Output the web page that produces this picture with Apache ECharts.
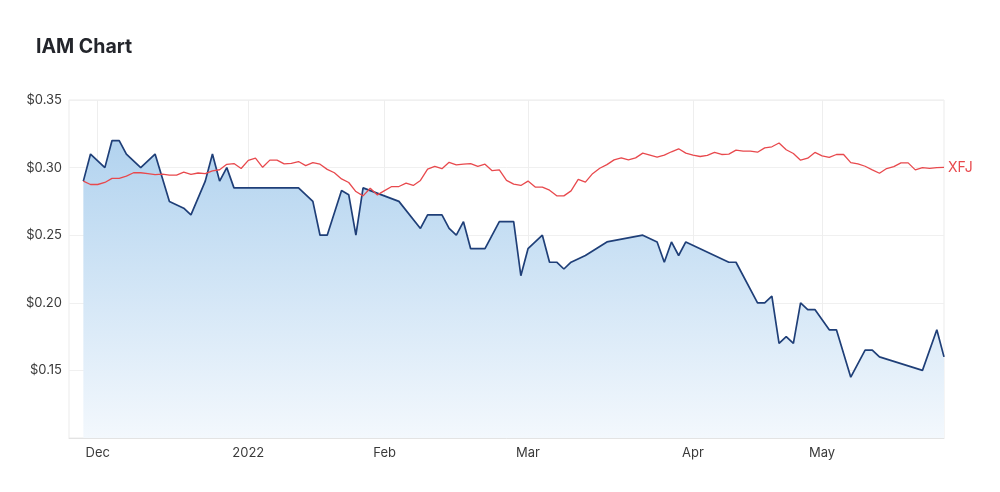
<!DOCTYPE html>
<html>
<head>
<meta charset="utf-8">
<script src="https://cdn.jsdelivr.net/npm/echarts@6/dist/echarts.min.js"></script>
<style>
  html, body { margin: 0; padding: 0; background: #ffffff; }
  #chart { width: 1000px; height: 492px; }
</style>
</head>
<body>
<div id="chart"></div>
<script>
// Trading-day categories (ASX), first two are empty padding days
const firstDay = '2021-11-25';
const lastDay = '2022-05-25';
const holidays = ['2021-12-27', '2021-12-28', '2022-01-03', '2022-01-26', '2022-04-15', '2022-04-18', '2022-04-25'];

// Month tick labels
const tickDates = ['2021-12-01', '2022-01-04', '2022-02-01', '2022-03-01', '2022-04-01', '2022-05-02'];
const tickLabels = ['Dec', '2022', 'Feb', 'Mar', 'Apr', 'May'];

// Y axis ticks
const yMin = 0.10, yMax = 0.35, yStep = 0.05;

// IAM close prices (null = no trade that day, line connects)
const iamValues = [
  null, null, 0.29, 0.31, null, 0.30, 0.32, 0.32, 0.31, null,
  0.30, null, 0.31, null, 0.275, null, 0.27, 0.265, null, 0.29,
  0.31, 0.29, 0.30, 0.285, 0.285, 0.285, 0.285, 0.285, 0.285, 0.285,
  0.285, 0.285, 0.285, null, 0.275, 0.25, 0.25, null, 0.283, 0.28,
  0.25, 0.285, null, null, null, null, 0.275, null, null, 0.255,
  0.265, 0.265, 0.265, 0.255, 0.25, 0.26, 0.24, 0.24, 0.24, null,
  0.26, 0.26, 0.26, 0.22, 0.24, null, 0.25, 0.23, 0.23, 0.225,
  0.23, null, 0.235, null, null, 0.245, null, null, null, null,
  0.25, null, 0.245, 0.23, 0.245, 0.235, 0.245, null, null, null,
  null, null, 0.23, 0.23, null, null, 0.20, 0.20, 0.205, 0.17,
  0.175, 0.17, 0.20, 0.195, 0.195, null, 0.18, 0.18, null, 0.145,
  null, 0.165, 0.165, 0.16, null, null, null, null, null, 0.15,
  null, 0.18, 0.16
];

// XFJ index, rebased to IAM's first price
const xfjValues = [
  null, null, 0.29, 0.2875, 0.2875, 0.289, 0.292, 0.292, 0.2937, 0.2962,
  0.2962, 0.2955, 0.2948, 0.2952, 0.2945, 0.2945, 0.2966, 0.295, 0.296, 0.2955,
  0.2976, 0.2984, 0.3024, 0.303, 0.2993, 0.3053, 0.307, 0.3002, 0.3055, 0.3055,
  0.3027, 0.3032, 0.3045, 0.3015, 0.3037, 0.3025, 0.2987, 0.2962, 0.2916, 0.289,
  0.2823, 0.2791, 0.2847, 0.2798, 0.283, 0.286, 0.286, 0.2885, 0.2868, 0.2905,
  0.2988, 0.3009, 0.2992, 0.3039, 0.302, 0.3025, 0.303, 0.3009, 0.3025, 0.2977,
  0.2983, 0.2906, 0.2878, 0.2868, 0.29, 0.2856, 0.2856, 0.2833, 0.2791, 0.2791,
  0.2828, 0.2913, 0.2893, 0.2955, 0.2995, 0.3022, 0.3057, 0.3072, 0.3057, 0.3072,
  0.3107, 0.3092, 0.3077, 0.3092, 0.3117, 0.3139, 0.3107, 0.3092, 0.3082, 0.309,
  0.3112, 0.3097, 0.31, 0.3129, 0.3122, 0.3122, 0.3114, 0.3146, 0.3154, 0.3182,
  0.3132, 0.3104, 0.3055, 0.307, 0.3112, 0.3087, 0.3075, 0.3097, 0.3097, 0.3037,
  0.3027, 0.301, 0.2983, 0.2958, 0.2993, 0.3007, 0.3035, 0.3035, 0.2983, 0.30,
  0.2995, 0.30, 0.3002
];

function buildDates(from, to, skip) {
  const out = [];
  const d = new Date(from + 'T00:00:00Z');
  const end = new Date(to + 'T00:00:00Z');
  while (d <= end) {
    const s = d.toISOString().slice(0, 10);
    const wd = d.getUTCDay();
    if (wd !== 0 && wd !== 6 && skip.indexOf(s) < 0) out.push(s);
    d.setUTCDate(d.getUTCDate() + 1);
  }
  return out;
}
const dates = buildDates(firstDay, lastDay, holidays);
const tickSet = {};
tickDates.forEach((t, k) => { tickSet[t] = tickLabels[k]; });
const isTick = (idx, val) => Object.prototype.hasOwnProperty.call(tickSet, val);

const chart = echarts.init(document.getElementById('chart'), null, { renderer: 'canvas' });
chart.setOption({
  animation: false,
  backgroundColor: '#ffffff',
  title: {
    text: 'IAM Chart',
    left: 31,
    top: 32,
    textStyle: { fontFamily: 'Inter', fontSize: 19.5, fontWeight: 'bold', color: '#23252b' }
  },
  grid: {
    left: 69, right: 56, top: 100, bottom: 54,
    show: true, borderColor: '#ebebeb', borderWidth: 1, backgroundColor: 'transparent'
  },
  xAxis: {
    type: 'category',
    data: dates,
    boundaryGap: false,
    axisLine: { show: true, lineStyle: { color: '#e3e3e3' } },
    axisTick: { show: false },
    axisLabel: {
      interval: isTick,
      formatter: v => tickSet[v] || '',
      fontFamily: 'Inter', fontSize: 13, color: '#3a3a3a', margin: 9
    },
    splitLine: { show: true, interval: isTick, lineStyle: { color: '#eeeeee', width: 1 } }
  },
  yAxis: {
    type: 'value',
    min: yMin, max: yMax, interval: yStep,
    axisLine: { show: false },
    axisTick: { show: false },
    axisLabel: {
      formatter: v => (v < yMin + 1e-6 ? '' : '$' + v.toFixed(2)),
      fontFamily: 'Inter', fontSize: 13, color: '#3a3a3a', margin: 7
    },
    splitLine: { show: true, lineStyle: { color: '#f0f0f0', width: 1 } }
  },
  series: [
    {
      name: 'IAM',
      type: 'line',
      data: iamValues,
      connectNulls: true,
      showSymbol: false,
      symbol: 'none',
      lineStyle: { color: '#1f3f78', width: 1.7 },
      areaStyle: {
        origin: 'start',
        opacity: 1,
        color: new echarts.graphic.LinearGradient(0, 0, 0, 1, [
          { offset: 0, color: '#b2d3ef' },
          { offset: 1, color: '#f3f8fd' }
        ])
      },
      z: 2
    },
    {
      name: 'XFJ',
      type: 'line',
      data: xfjValues,
      connectNulls: true,
      showSymbol: false,
      symbol: 'none',
      lineStyle: { color: '#e8494d', width: 1.3 },
      endLabel: {
        show: true,
        formatter: 'XFJ',
        color: '#e8494d',
        fontFamily: 'Inter',
        fontSize: 14,
        distance: 4
      },
      z: 3
    }
  ]
});
</script>
</body>
</html>
